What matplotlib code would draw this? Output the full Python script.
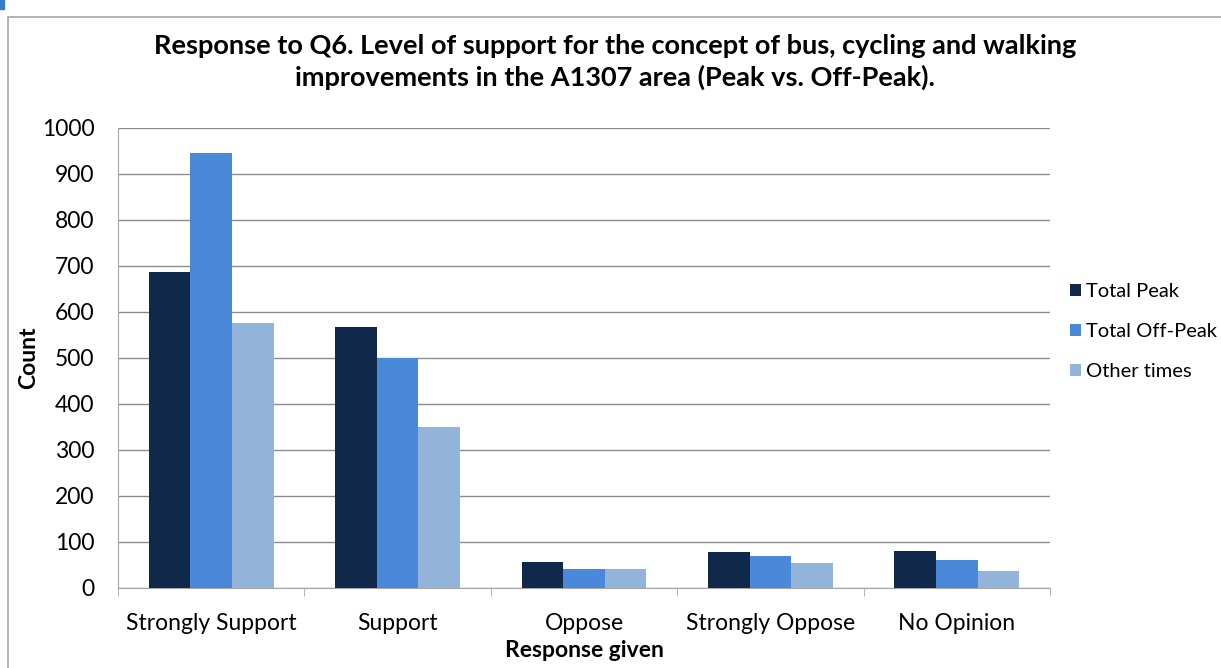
import numpy as np
import matplotlib
matplotlib.use("Agg")
import matplotlib.pyplot as plt
from matplotlib.patches import Rectangle

plt.rcParams['font.family'] = ['Lato', 'DejaVu Sans']

categories = ['Strongly Support', 'Support', 'Oppose', 'Strongly Oppose', 'No Opinion']
series_names = ['Total Peak', 'Total Off-Peak', 'Other times']
total_peak = [687, 567, 57, 78, 80]
total_off_peak = [945, 500, 41, 70, 61]
other_times = [575, 350, 41, 54, 38]
y_ticks = [0, 100, 200, 300, 400, 500, 600, 700, 800, 900, 1000]

colors = ['#10284a', '#4a89d9', '#94b3da']

fig = plt.figure(figsize=(12.21, 6.68), dpi=100)
# outer chart border
fig.patches.append(Rectangle((8 / 1221, -0.01), 1.1, 1 - 17 / 668 + 0.01,
                             transform=fig.transFigure, fill=False,
                             edgecolor='#a6a6a6', linewidth=1.2))
# small blue mark at top-left corner
fig.patches.append(Rectangle((0, 1 - 9 / 668), 4 / 1221, 9 / 668,
                             transform=fig.transFigure, color='#3b78c9'))

ax = fig.add_axes([118 / 1221, 1 - 588 / 668, 932 / 1221, 460 / 668])

x = np.arange(len(categories))
w = 0.223
for i, (vals, name) in enumerate(zip([total_peak, total_off_peak, other_times], series_names)):
    ax.bar(x + (i - 1) * w, vals, width=w, color=colors[i], label=name, zorder=3)

ax.set_xlim(-0.5, len(categories) - 0.5)
ax.set_ylim(0, 1000)
ax.set_yticks(y_ticks)
ax.tick_params(axis='y', length=0, labelsize=16.5, pad=17)
ax.set_xticks(x)
ax.set_xticklabels(categories, fontsize=16.5)
ax.tick_params(axis='x', length=0, pad=18)
ax.set_xticks(np.arange(len(categories) + 1) - 0.5, minor=True)
ax.tick_params(axis='x', which='minor', length=6, color='#a6a6a6')
ax.grid(axis='y', color='#8c8c8c', linewidth=1, zorder=0)
for s in ['top', 'right']:
    ax.spines[s].set_visible(False)
ax.spines['left'].set_color('#a6a6a6')
ax.spines['bottom'].set_color('#a6a6a6')

ax.set_ylabel('Count', fontsize=16.5, fontweight='bold', labelpad=2)
ax.set_xlabel('Response given', fontsize=16.5, fontweight='bold', labelpad=4)

fig.text(615 / 1221, 1 - 62 / 668,
         'Response to Q6. Level of support for the concept of bus, cycling and walking\n'
         'improvements in the A1307 area (Peak vs. Off-Peak).',
         ha='center', va='center', fontsize=19.5, fontweight='bold', linespacing=1.35)

ax.legend(loc='center left', bbox_to_anchor=(1.0, 0.557), frameon=False,
          fontsize=14.5, handlelength=0.55, handleheight=0.55, handletextpad=0.25,
          labelspacing=1.15, borderaxespad=0.6)

fig.savefig('out.png', dpi=100)
